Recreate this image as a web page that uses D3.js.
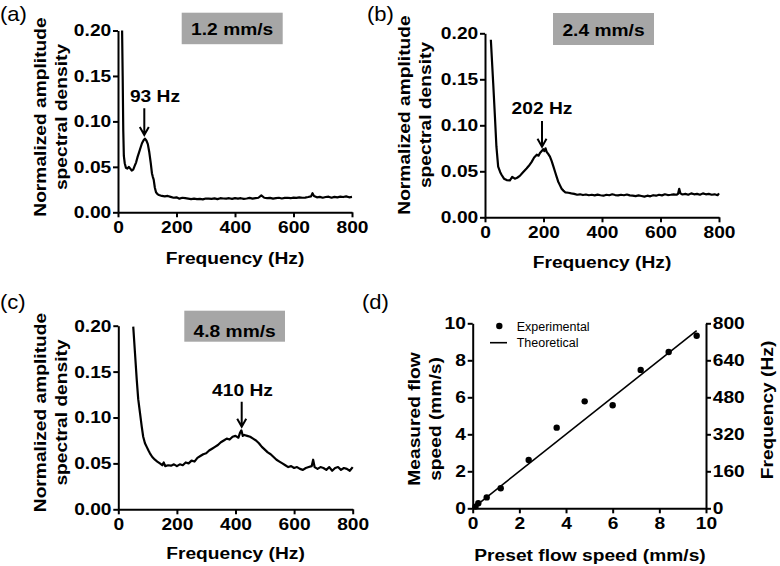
<!DOCTYPE html>
<html><head><meta charset="utf-8">
<script src="https://cdn.jsdelivr.net/npm/d3@7"></script>
<style>
html,body{margin:0;padding:0;background:#fff;}
svg{display:block;font-family:"Liberation Sans",Arial,Helvetica,sans-serif;}
</style></head>
<body>
<svg id="chart" width="780" height="566"></svg>
<script>
// ---------------- DATA ----------------
const freqA = [14,16,18,20,23,27,32,37,42,47,52,57,62,67,72,77,82,87,92,97,102,107,112,116,119,122,126,130,135,140,150,160,170,180,190,200,210,220,230,240,250,260,270,280,290,300,310,320,330,340,350,360,370,380,390,400,410,420,430,440,450,460,470,480,490,500,510,520,530,540,550,560,570,580,590,600,610,620,630,640,650,660,665,670,680,690,700,710,720,730,740,750,760,770,780,790,800];
const ampA = [0.200,0.150,0.090,0.062,0.054,0.049,0.048,0.050,0.048,0.046,0.047,0.051,0.055,0.061,0.066,0.071,0.076,0.079,0.081,0.079,0.075,0.066,0.054,0.043,0.039,0.036,0.027,0.022,0.020,0.019,0.018,0.0175,0.018,0.017,0.016,0.0165,0.015,0.016,0.0155,0.015,0.0145,0.015,0.0145,0.0148,0.0142,0.0152,0.015,0.0148,0.0153,0.0145,0.0155,0.0152,0.015,0.0155,0.0148,0.0156,0.015,0.0155,0.0148,0.0152,0.0158,0.015,0.0155,0.016,0.0185,0.016,0.0155,0.0158,0.015,0.0155,0.016,0.0152,0.0158,0.016,0.0155,0.0162,0.0158,0.0165,0.016,0.0162,0.0168,0.0175,0.021,0.018,0.0165,0.017,0.016,0.0168,0.0172,0.016,0.017,0.0165,0.0172,0.0168,0.0175,0.0165,0.017];

const freqB = [20,28,34,39,45,52,57,65,74,85,93,102,110,119,130,142,150,159,168,177,183,188,194,199,203,207,211,216,222,228,234,240,245,250,256,262,268,275,285,295,305,315,325,335,345,355,365,375,385,395,405,415,425,435,445,455,465,475,485,495,505,515,525,535,545,555,565,575,585,595,605,615,625,635,645,655,660,664,668,675,685,695,705,715,725,735,745,755,765,775,785,795,800];
const ampB = [0.193,0.146,0.109,0.077,0.055,0.049,0.046,0.042,0.0405,0.040,0.044,0.042,0.043,0.045,0.049,0.053,0.056,0.060,0.065,0.068,0.067,0.070,0.072,0.074,0.072,0.075,0.071,0.069,0.066,0.061,0.055,0.049,0.044,0.039,0.035,0.031,0.029,0.027,0.0267,0.026,0.0255,0.0245,0.025,0.0242,0.0248,0.024,0.0245,0.0238,0.0246,0.024,0.0235,0.0245,0.024,0.025,0.0242,0.0238,0.0245,0.024,0.0248,0.0238,0.0235,0.023,0.0238,0.0232,0.0225,0.0235,0.0228,0.024,0.0235,0.0245,0.0238,0.025,0.0242,0.0245,0.025,0.0245,0.0255,0.031,0.026,0.0248,0.0255,0.0245,0.026,0.025,0.0255,0.0245,0.026,0.025,0.0255,0.0245,0.025,0.024,0.026];

const freqC = [51,57,63,68,74,80,85,91,97,103,108,116,125,133,142,150,155,160,170,180,190,200,210,220,230,240,250,260,270,280,290,300,310,320,330,340,350,360,370,380,390,400,410,415,420,425,430,440,450,460,470,480,490,500,510,520,530,540,550,560,570,580,590,600,610,620,630,640,650,660,665,670,680,690,700,710,720,730,740,750,760,770,780,790,800];
const ampC = [0.199,0.170,0.141,0.120,0.105,0.090,0.079,0.072,0.068,0.064,0.061,0.057,0.054,0.052,0.050,0.048,0.051,0.047,0.048,0.0475,0.049,0.047,0.049,0.048,0.051,0.050,0.053,0.052,0.056,0.058,0.060,0.061,0.064,0.066,0.068,0.070,0.073,0.075,0.077,0.076,0.079,0.080,0.078,0.083,0.086,0.080,0.081,0.080,0.079,0.077,0.075,0.072,0.068,0.065,0.062,0.060,0.057,0.054,0.052,0.050,0.048,0.046,0.047,0.045,0.046,0.044,0.043,0.045,0.046,0.047,0.054,0.046,0.044,0.046,0.045,0.043,0.046,0.042,0.045,0.046,0.043,0.045,0.044,0.042,0.046];

const speedLabels = ["1.2 mm/s","2.4 mm/s","4.8 mm/s"];
const peakLabels = ["93 Hz","202 Hz","410 Hz"];
const peakFreqs = [93,202,410];

const presetSpeed   = [0.12,0.24,0.6,1.2,2.4,3.6,4.8,6.0,7.2,8.4,9.6];
const measuredSpeed = [0.09,0.27,0.59,1.08,2.61,4.36,5.78,5.57,7.48,8.45,9.33];
const theoryX = [0, 9.6];
const theoryY = [0, 9.6];

const specYTicks = [0,0.05,0.10,0.15,0.20];
const specXTicks = [0,200,400,600,800];
const dTicks = [0,2,4,6,8,10];
const dFreqTicks = [0,160,320,480,640,800];
const legendLabels = ["Experimental","Theoretical"];

// ---------------- DRAW ----------------
const svg = d3.select("#chart");
const SX = 1.13;
function label(x, y, str, o = {}) {
  const size = o.size || 17, weight = o.weight || "bold", anchor = o.anchor || "middle",
        rot = o.rotate || 0, sx = o.sx || SX;
  return svg.append("text")
    .attr("transform", `translate(${x},${y}) rotate(${rot}) scale(${sx},1)`)
    .attr("text-anchor", anchor).attr("font-size", size).attr("font-weight", weight)
    .attr("fill", "#000").text(str);
}
function styleAxis(g) {
  g.selectAll("path.domain").attr("stroke", "#000").attr("stroke-width", 2);
  g.selectAll(".tick line").attr("stroke", "#000").attr("stroke-width", 2);
  g.selectAll(".tick text").attr("font-size", 17).attr("font-weight", "bold")
    .attr("fill", "#000").attr("font-family", '"Liberation Sans",Arial,sans-serif')
    .attr("transform", `scale(${SX},1)`);
}
const fmt2 = d3.format(".2f");

const panels = [
  {freq: freqA, amp: ampA, xr: [118, 352], yr: [212.3, 30.5], box: [181.7, 12.7, 101, 31.5], boxBase: 34.5,
   arrowX: 144.3, arrowY: [108.3, 135], peakText: [155, 101.7],
   xTitle: [235, 264], yTitleX: [46, 67], yTitleY: 117, tag: ["(a)", 0, 21]},
  {freq: freqB, amp: ampB, xr: [485, 719], yr: [217.3, 33.3], box: [553, 13, 101, 32], boxBase: 36,
   arrowX: 542, arrowY: [121, 146.7], peakText: [542, 114],
   xTitle: [602, 267.7], yTitleX: [410, 431], yTitleY: 115, tag: ["(b)", 367, 21]},
  {freq: freqC, amp: ampC, xr: [118.3, 352.7], yr: [509.3, 325.7], box: [184.3, 310.7, 100.7, 31], boxBase: 336.5,
   arrowX: 241.7, arrowY: [401.7, 426.7], peakText: [242.5, 395.7],
   xTitle: [235.5, 559.3], yTitleX: [46, 67], yTitleY: 412.5, tag: ["(c)", 0, 309]}
];

panels.forEach((p, i) => {
  const x = d3.scaleLinear().domain([0, 800]).range(p.xr);
  const y = d3.scaleLinear().domain([0, 0.20]).range(p.yr);
  svg.append("rect").attr("x", p.box[0]).attr("y", p.box[1]).attr("width", p.box[2]).attr("height", p.box[3])
    .attr("fill", "#a6a6a6");
  label(p.box[0] + p.box[2] / 2, p.boxBase, speedLabels[i]);
  const pts = p.freq.map((f, k) => [f, p.amp[k]]);
  svg.append("path").datum(pts)
    .attr("d", d3.line().x(d => x(d[0])).y(d => y(d[1])))
    .attr("fill", "none").attr("stroke", "#000").attr("stroke-width", 2.2).attr("stroke-linejoin", "round");
  const gx = svg.append("g").attr("transform", `translate(0,${p.yr[0]})`)
    .call(d3.axisBottom(x).tickValues(specXTicks).tickSize(5).tickSizeOuter(0).tickPadding(4).tickFormat(d3.format("d")));
  styleAxis(gx);
  const gy = svg.append("g").attr("transform", `translate(${p.xr[0]},0)`)
    .call(d3.axisLeft(y).tickValues(specYTicks).tickSize(5).tickSizeOuter(0).tickPadding(1).tickFormat(fmt2));
  styleAxis(gy);
  label(p.peakText[0], p.peakText[1], peakLabels[i]);
  const ax = p.arrowX, a0 = p.arrowY[0], a1 = p.arrowY[1];
  svg.append("path").attr("d", `M${ax},${a0}L${ax},${a1}M${ax - 4.5},${a1 - 8}L${ax},${a1}L${ax + 4.5},${a1 - 8}`)
    .attr("fill", "none").attr("stroke", "#000").attr("stroke-width", 2);
  label(p.xTitle[0], p.xTitle[1], "Frequency (Hz)");
  label(p.yTitleX[0], p.yTitleY, "Normalized amplitude", {rotate: -90});
  label(p.yTitleX[1], p.yTitleY, "spectral density", {rotate: -90});
  label(p.tag[1], p.tag[2], p.tag[0], {size: 20, weight: "normal", anchor: "start", sx: 1.1});
});

// ---- panel (d)
{
  const xr = [472.7, 706], yr = [508.3, 323.3];
  const x = d3.scaleLinear().domain([0, 10]).range(xr);
  const y = d3.scaleLinear().domain([0, 10]).range(yr);
  const yf = d3.scaleLinear().domain([0, 800]).range(yr);

  svg.append("path").datum(theoryX.map((v, k) => [v, theoryY[k]]))
    .attr("d", d3.line().x(d => x(d[0])).y(d => y(d[1])))
    .attr("stroke", "#000").attr("stroke-width", 1.6).attr("fill", "none");
  svg.append("g").selectAll("circle").data(presetSpeed.map((v, k) => [v, measuredSpeed[k]]))
    .join("circle").attr("cx", d => x(d[0])).attr("cy", d => y(d[1])).attr("r", 3.2).attr("fill", "#000");

  const gx = svg.append("g").attr("transform", `translate(0,${yr[0]})`)
    .call(d3.axisBottom(x).tickValues(dTicks).tickSize(5).tickSizeOuter(0).tickPadding(4).tickFormat(d3.format("d")));
  styleAxis(gx);
  const gy = svg.append("g").attr("transform", `translate(${xr[0]},0)`)
    .call(d3.axisLeft(y).tickValues(dTicks).tickSize(5).tickSizeOuter(0).tickPadding(1).tickFormat(d3.format("d")));
  styleAxis(gy);
  const gr = svg.append("g").attr("transform", `translate(${xr[1]},0)`)
    .call(d3.axisRight(yf).tickValues(dFreqTicks).tickSize(5).tickSizeOuter(0).tickPadding(1).tickFormat(d3.format("d")));
  styleAxis(gr);

  svg.append("circle").attr("cx", 499.3).attr("cy", 326).attr("r", 3.2).attr("fill", "#000");
  svg.append("line").attr("x1", 490).attr("x2", 507).attr("y1", 342.7).attr("y2", 342.7)
    .attr("stroke", "#000").attr("stroke-width", 1.6);
  label(516.7, 330.7, legendLabels[0], {size: 12.5, weight: "normal", anchor: "start", sx: 1});
  label(516.7, 346.7, legendLabels[1], {size: 12.5, weight: "normal", anchor: "start", sx: 1});

  label(590, 560.7, "Preset flow speed (mm/s)");
  label(420, 419, "Measured flow", {rotate: -90});
  label(441, 419, "speed (mm/s)", {rotate: -90});
  label(773, 410, "Frequency (Hz)", {rotate: -90});
  label(362, 309, "(d)", {size: 20, weight: "normal", anchor: "start", sx: 1.1});
}
</script>
</body></html>
